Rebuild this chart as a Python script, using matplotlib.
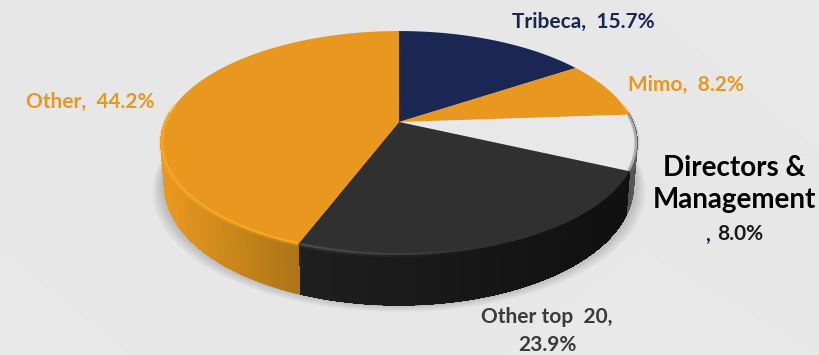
import numpy as np
import matplotlib
matplotlib.use('Agg')
import matplotlib.pyplot as plt
from matplotlib.colors import to_rgb
from matplotlib.collections import PolyCollection, LineCollection

# share of each slice, clockwise from 12 o'clock
labels = ['Tribeca', 'Mimo', 'Directors &\nManagement', 'Other top 20', 'Other']
shares = [15.7, 8.2, 8.0, 23.9, 44.2]
top_colors = ['#1a2753', '#e8981f', '#e8e8e8', '#303030', '#e8981f']
rim_colors = ['#1a2753', '#f5a926', '#8a8a8a', '#5a5a5a', '#ffb02a']
side_light = ['#1a2753', '#e8981f', '#8c8c8c', '#1f1f1f', '#e8981f']
side_dark = ['#141d3e', '#a8701a', '#555555', '#111111', '#ab7418']

BG = '#e7e7e7'
CX, CY = 399, 122
A, B, K = 233.8, 108.0, -0.1875

plt.rcParams['font.family'] = ['Lato', 'DejaVu Sans']
fig = plt.figure(figsize=(8.19, 3.55), dpi=100, facecolor=BG)
ax = fig.add_axes([0, 0, 1, 1])
ax.set_xlim(0, 819)
ax.set_ylim(355, 0)
ax.axis('off')


def project(theta, r=1.0):
    # disc seen in perspective, theta clockwise from the top
    u = r * np.sin(theta)
    v = -r * np.cos(theta)
    w = 1 + K * v
    return CX + A * u / w, CY + B * v / w


def drop(theta):
    # height of the side wall under the rim
    v = -np.cos(theta)
    return 40 + 10 * np.clip(v, 0, 1)


def mix(c1, c2, t):
    c1, c2 = np.array(to_rgb(c1)), np.array(to_rgb(c2))
    return tuple(c1 + (c2 - c1) * t)


# faint facets in the background
for pts in [[(0, 355), (0, 250), (130, 355)], [(500, 355), (640, 250), (819, 355)],
            [(640, 0), (819, 0), (819, 150)]]:
    ax.fill(*zip(*pts), color='#e9e9e9', lw=0, zorder=0)

fractions = np.array(shares) / sum(shares)
edges = np.concatenate([[0], np.cumsum(fractions)]) * 2 * np.pi

# soft shadow under the disc
t = np.linspace(0, 2 * np.pi, 240)
sx, sy = project(t)
for grow in np.linspace(9, 0, 10):
    ax.fill(CX + (sx - CX) * (1 + grow / 240), sy + drop(t) + grow * 0.7 + 1,
            color='black', alpha=0.014, lw=0, zorder=1)

# side wall, only the part facing us
for i in range(len(shares)):
    ts = np.linspace(edges[i], edges[i + 1], 160)
    ts = ts[(ts > np.pi * 0.47) & (ts < np.pi * 1.53)]
    if len(ts) < 2:
        continue
    x, y = project(ts)
    d = drop(ts)
    xb = CX + (x - CX) * 0.985
    quads = []
    cols = []
    bottom = []
    for j in range(len(ts) - 1):
        quads.append([(x[j], y[j]), (x[j + 1], y[j + 1]),
                      (xb[j + 1], y[j + 1] + d[j + 1]), (xb[j], y[j] + d[j])])
        bottom.append([(xb[j], y[j] + d[j]), (xb[j + 1], y[j + 1] + d[j + 1])])
        # darker towards the right of the wall
        shade = np.clip((x[j] - 165) / 135, 0, 1) if i == 4 else np.clip((x[j] - 300) / 300, 0, 1)
        cols.append(mix(side_light[i], side_dark[i], shade))
    ax.add_collection(PolyCollection(quads, facecolors=cols, edgecolors=cols, lw=0.5,
                                     antialiaseds=False, zorder=2))
    ax.add_collection(LineCollection(bottom, colors=cols, lw=1.0, zorder=2))

# top face
for i in range(len(shares)):
    ts = np.linspace(edges[i], edges[i + 1], 160)
    x, y = project(ts)
    ax.fill(np.r_[CX, x], np.r_[CY, y], color=top_colors[i], lw=0, zorder=3)
    # bevel along the front rim, fading out to the right
    front = (ts > np.pi * 0.45) & (ts < np.pi * 1.55)
    if front.sum() < 2:
        continue
    for r, lw, al in [(1.0, 3.2, 0.25), (0.995, 1.6, 0.6)]:
        rx, ry = project(ts[front], r)
        segs = [[(rx[j], ry[j]), (rx[j + 1], ry[j + 1])] for j in range(len(rx) - 1)]
        alphas = al * np.clip(1 - (rx[:-1] - 300) / 190, 0.0, 1) if i == 3 else np.full(len(segs), al)
        rgba = [(*to_rgb(rim_colors[i]), a) for a in alphas]
        ax.add_collection(LineCollection(segs, colors=rgba, lw=lw, capstyle='butt', zorder=4))

lab_fs = 15
ax.text(583, 22, f'Tribeca,  {shares[0]}%', color='#1a2753', fontsize=lab_fs, fontweight='bold',
        ha='center', va='center')
ax.text(686, 85, f'Mimo,  {shares[1]}%', color='#e8981f', fontsize=lab_fs, fontweight='bold',
        ha='center', va='center')
ax.text(734, 184, labels[2], color='black', fontsize=20, fontweight='bold', ha='center',
        va='center', linespacing=1.32)
ax.text(708, 235, ',', color='#1a2753', fontsize=lab_fs, fontweight='bold', ha='center', va='center')
ax.text(740, 234, f'{shares[2]}%', color='#1a1a1a', fontsize=lab_fs, fontweight='bold',
        ha='center', va='center')
ax.text(547, 331, f'{labels[3].replace("top ", "top  ")},\n{shares[3]}%', color='#3a3a3a',
        fontsize=lab_fs, fontweight='bold', ha='center', va='center', linespacing=1.5)
ax.text(90, 102, f'{labels[4]},  {shares[4]}%', color='#e8981f', fontsize=lab_fs, fontweight='bold',
        ha='center', va='center')

fig.savefig('out.png', dpi=100, facecolor=BG)
